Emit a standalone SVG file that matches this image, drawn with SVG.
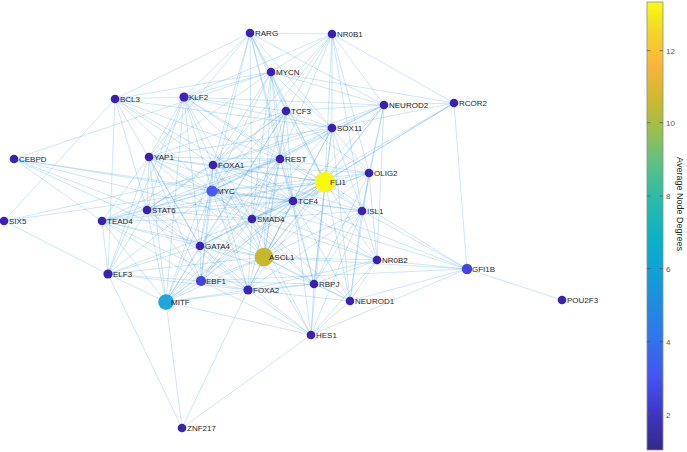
<svg xmlns="http://www.w3.org/2000/svg" width="687" height="452" viewBox="0 0 687 452">
<defs>
<style>
.e line{stroke:#3a9be0;stroke-opacity:0.42;stroke-width:0.6;fill:none}
.n circle{stroke:none}
.s{fill:#3b20b2}
text{font-family:"Liberation Sans",Arial,sans-serif;font-size:8px;fill:#262626}
.tk{font-size:8px;fill:#555}
</style>
<linearGradient id="parula" x1="0" y1="1" x2="0" y2="0">
<stop offset="0" stop-color="#352a87"/>
<stop offset="0.08" stop-color="#3d35c4"/>
<stop offset="0.16" stop-color="#4652f2"/>
<stop offset="0.26" stop-color="#2f78ea"/>
<stop offset="0.36" stop-color="#1796dc"/>
<stop offset="0.46" stop-color="#08b0cc"/>
<stop offset="0.56" stop-color="#28bca8"/>
<stop offset="0.64" stop-color="#5dc184"/>
<stop offset="0.72" stop-color="#9fbf4a"/>
<stop offset="0.78" stop-color="#cbb92f"/>
<stop offset="0.86" stop-color="#f9b53a"/>
<stop offset="0.93" stop-color="#f3d52a"/>
<stop offset="1" stop-color="#f9fb0e"/>
</linearGradient>
</defs>
<rect width="687" height="452" fill="#fff"/>
<g class="e" id="edges">
<line x1="250" y1="33" x2="332" y2="34"/><line x1="250" y1="33" x2="271" y2="72"/><line x1="250" y1="33" x2="286" y2="111"/><line x1="250" y1="33" x2="184" y2="97"/><line x1="250" y1="33" x2="115" y2="99"/><line x1="250" y1="33" x2="149" y2="157"/><line x1="250" y1="33" x2="213" y2="165"/><line x1="250" y1="33" x2="280" y2="159"/><line x1="250" y1="33" x2="325" y2="182"/><line x1="250" y1="33" x2="293" y2="201"/><line x1="250" y1="33" x2="252" y2="219"/><line x1="250" y1="33" x2="332" y2="128"/><line x1="250" y1="33" x2="212" y2="191"/><line x1="250" y1="33" x2="384" y2="105"/>
<line x1="332" y1="34" x2="271" y2="72"/><line x1="332" y1="34" x2="286" y2="111"/><line x1="332" y1="34" x2="332" y2="128"/><line x1="332" y1="34" x2="369" y2="173"/><line x1="332" y1="34" x2="362" y2="211"/><line x1="332" y1="34" x2="325" y2="182"/><line x1="332" y1="34" x2="454" y2="103"/><line x1="332" y1="34" x2="384" y2="105"/><line x1="332" y1="34" x2="213" y2="165"/><line x1="332" y1="34" x2="184" y2="97"/><line x1="332" y1="34" x2="280" y2="159"/><line x1="332" y1="34" x2="212" y2="191"/>
<line x1="271" y1="72" x2="286" y2="111"/><line x1="271" y1="72" x2="280" y2="159"/><line x1="271" y1="72" x2="325" y2="182"/><line x1="271" y1="72" x2="293" y2="201"/><line x1="271" y1="72" x2="384" y2="105"/><line x1="271" y1="72" x2="454" y2="103"/><line x1="271" y1="72" x2="184" y2="97"/><line x1="271" y1="72" x2="213" y2="165"/><line x1="271" y1="72" x2="212" y2="191"/><line x1="271" y1="72" x2="252" y2="219"/><line x1="271" y1="72" x2="149" y2="157"/><line x1="271" y1="72" x2="332" y2="128"/><line x1="271" y1="72" x2="264" y2="257"/><line x1="271" y1="72" x2="115" y2="99"/><line x1="271" y1="72" x2="14" y2="159"/>
<line x1="115" y1="99" x2="184" y2="97"/><line x1="115" y1="99" x2="4" y2="221"/><line x1="115" y1="99" x2="108" y2="274"/><line x1="115" y1="99" x2="147" y2="210"/><line x1="115" y1="99" x2="213" y2="165"/><line x1="115" y1="99" x2="280" y2="159"/><line x1="115" y1="99" x2="293" y2="201"/><line x1="115" y1="99" x2="212" y2="191"/><line x1="115" y1="99" x2="332" y2="128"/><line x1="115" y1="99" x2="200" y2="246"/>
<line x1="184" y1="97" x2="286" y2="111"/><line x1="184" y1="97" x2="149" y2="157"/><line x1="184" y1="97" x2="213" y2="165"/><line x1="184" y1="97" x2="212" y2="191"/><line x1="184" y1="97" x2="280" y2="159"/><line x1="184" y1="97" x2="325" y2="182"/><line x1="184" y1="97" x2="293" y2="201"/><line x1="184" y1="97" x2="252" y2="219"/><line x1="184" y1="97" x2="147" y2="210"/><line x1="184" y1="97" x2="108" y2="274"/><line x1="184" y1="97" x2="166" y2="302"/><line x1="184" y1="97" x2="332" y2="128"/><line x1="184" y1="97" x2="384" y2="105"/><line x1="184" y1="97" x2="200" y2="246"/>
<line x1="286" y1="111" x2="280" y2="159"/><line x1="286" y1="111" x2="325" y2="182"/><line x1="286" y1="111" x2="293" y2="201"/><line x1="286" y1="111" x2="332" y2="128"/><line x1="286" y1="111" x2="384" y2="105"/><line x1="286" y1="111" x2="213" y2="165"/><line x1="286" y1="111" x2="212" y2="191"/><line x1="286" y1="111" x2="149" y2="157"/><line x1="286" y1="111" x2="252" y2="219"/><line x1="286" y1="111" x2="264" y2="257"/><line x1="286" y1="111" x2="200" y2="246"/><line x1="286" y1="111" x2="166" y2="302"/><line x1="286" y1="111" x2="369" y2="173"/><line x1="286" y1="111" x2="147" y2="210"/>
<line x1="384" y1="105" x2="454" y2="103"/><line x1="384" y1="105" x2="332" y2="128"/><line x1="384" y1="105" x2="325" y2="182"/><line x1="384" y1="105" x2="369" y2="173"/><line x1="384" y1="105" x2="362" y2="211"/><line x1="384" y1="105" x2="280" y2="159"/><line x1="384" y1="105" x2="293" y2="201"/><line x1="384" y1="105" x2="212" y2="191"/><line x1="384" y1="105" x2="213" y2="165"/><line x1="384" y1="105" x2="264" y2="257"/><line x1="384" y1="105" x2="377" y2="260"/>
<line x1="454" y1="103" x2="325" y2="182"/><line x1="454" y1="103" x2="467" y2="269"/><line x1="454" y1="103" x2="252" y2="219"/><line x1="454" y1="103" x2="332" y2="128"/><line x1="454" y1="103" x2="293" y2="201"/>
<line x1="332" y1="128" x2="280" y2="159"/><line x1="332" y1="128" x2="325" y2="182"/><line x1="332" y1="128" x2="369" y2="173"/><line x1="332" y1="128" x2="362" y2="211"/><line x1="332" y1="128" x2="293" y2="201"/><line x1="332" y1="128" x2="212" y2="191"/><line x1="332" y1="128" x2="213" y2="165"/><line x1="332" y1="128" x2="252" y2="219"/><line x1="332" y1="128" x2="264" y2="257"/><line x1="332" y1="128" x2="149" y2="157"/><line x1="332" y1="128" x2="350" y2="301"/><line x1="332" y1="128" x2="314" y2="284"/>
<line x1="14" y1="159" x2="102" y2="221"/><line x1="14" y1="159" x2="147" y2="210"/><line x1="14" y1="159" x2="212" y2="191"/><line x1="14" y1="159" x2="252" y2="219"/><line x1="14" y1="159" x2="200" y2="246"/><line x1="14" y1="159" x2="293" y2="201"/>
<line x1="4" y1="221" x2="108" y2="274"/><line x1="4" y1="221" x2="280" y2="159"/><line x1="4" y1="221" x2="212" y2="191"/>
<line x1="149" y1="157" x2="213" y2="165"/><line x1="149" y1="157" x2="212" y2="191"/><line x1="149" y1="157" x2="147" y2="210"/><line x1="149" y1="157" x2="102" y2="221"/><line x1="149" y1="157" x2="280" y2="159"/><line x1="149" y1="157" x2="293" y2="201"/><line x1="149" y1="157" x2="252" y2="219"/><line x1="149" y1="157" x2="200" y2="246"/><line x1="149" y1="157" x2="201" y2="281"/><line x1="149" y1="157" x2="166" y2="302"/><line x1="149" y1="157" x2="108" y2="274"/><line x1="149" y1="157" x2="325" y2="182"/><line x1="149" y1="157" x2="264" y2="257"/>
<line x1="213" y1="165" x2="280" y2="159"/><line x1="213" y1="165" x2="212" y2="191"/><line x1="213" y1="165" x2="325" y2="182"/><line x1="213" y1="165" x2="293" y2="201"/><line x1="213" y1="165" x2="252" y2="219"/><line x1="213" y1="165" x2="147" y2="210"/><line x1="213" y1="165" x2="200" y2="246"/><line x1="213" y1="165" x2="264" y2="257"/><line x1="213" y1="165" x2="201" y2="281"/><line x1="213" y1="165" x2="248" y2="290"/><line x1="213" y1="165" x2="166" y2="302"/><line x1="213" y1="165" x2="369" y2="173"/><line x1="213" y1="165" x2="362" y2="211"/><line x1="213" y1="165" x2="102" y2="221"/>
<line x1="280" y1="159" x2="325" y2="182"/><line x1="280" y1="159" x2="293" y2="201"/><line x1="280" y1="159" x2="212" y2="191"/><line x1="280" y1="159" x2="252" y2="219"/><line x1="280" y1="159" x2="369" y2="173"/><line x1="280" y1="159" x2="362" y2="211"/><line x1="280" y1="159" x2="264" y2="257"/><line x1="280" y1="159" x2="200" y2="246"/><line x1="280" y1="159" x2="147" y2="210"/><line x1="280" y1="159" x2="248" y2="290"/><line x1="280" y1="159" x2="314" y2="284"/><line x1="280" y1="159" x2="201" y2="281"/><line x1="280" y1="159" x2="166" y2="302"/><line x1="280" y1="159" x2="102" y2="221"/>
<line x1="369" y1="173" x2="325" y2="182"/><line x1="369" y1="173" x2="362" y2="211"/><line x1="369" y1="173" x2="293" y2="201"/><line x1="369" y1="173" x2="350" y2="301"/><line x1="369" y1="173" x2="377" y2="260"/><line x1="369" y1="173" x2="212" y2="191"/><line x1="369" y1="173" x2="252" y2="219"/><line x1="369" y1="173" x2="264" y2="257"/><line x1="369" y1="173" x2="314" y2="284"/>
<line x1="325" y1="182" x2="293" y2="201"/><line x1="325" y1="182" x2="212" y2="191"/><line x1="325" y1="182" x2="252" y2="219"/><line x1="325" y1="182" x2="362" y2="211"/><line x1="325" y1="182" x2="264" y2="257"/><line x1="325" y1="182" x2="200" y2="246"/><line x1="325" y1="182" x2="377" y2="260"/><line x1="325" y1="182" x2="314" y2="284"/><line x1="325" y1="182" x2="350" y2="301"/><line x1="325" y1="182" x2="467" y2="269"/><line x1="325" y1="182" x2="248" y2="290"/><line x1="325" y1="182" x2="201" y2="281"/><line x1="325" y1="182" x2="166" y2="302"/><line x1="325" y1="182" x2="147" y2="210"/><line x1="325" y1="182" x2="311" y2="335"/><line x1="325" y1="182" x2="102" y2="221"/>
<line x1="212" y1="191" x2="293" y2="201"/><line x1="212" y1="191" x2="252" y2="219"/><line x1="212" y1="191" x2="147" y2="210"/><line x1="212" y1="191" x2="200" y2="246"/><line x1="212" y1="191" x2="264" y2="257"/><line x1="212" y1="191" x2="201" y2="281"/><line x1="212" y1="191" x2="248" y2="290"/><line x1="212" y1="191" x2="166" y2="302"/><line x1="212" y1="191" x2="102" y2="221"/><line x1="212" y1="191" x2="108" y2="274"/><line x1="212" y1="191" x2="362" y2="211"/><line x1="212" y1="191" x2="314" y2="284"/><line x1="212" y1="191" x2="467" y2="269"/><line x1="212" y1="191" x2="377" y2="260"/>
<line x1="293" y1="201" x2="252" y2="219"/><line x1="293" y1="201" x2="362" y2="211"/><line x1="293" y1="201" x2="264" y2="257"/><line x1="293" y1="201" x2="200" y2="246"/><line x1="293" y1="201" x2="314" y2="284"/><line x1="293" y1="201" x2="350" y2="301"/><line x1="293" y1="201" x2="377" y2="260"/><line x1="293" y1="201" x2="248" y2="290"/><line x1="293" y1="201" x2="201" y2="281"/><line x1="293" y1="201" x2="311" y2="335"/><line x1="293" y1="201" x2="147" y2="210"/><line x1="293" y1="201" x2="467" y2="269"/><line x1="293" y1="201" x2="166" y2="302"/><line x1="293" y1="201" x2="102" y2="221"/>
<line x1="147" y1="210" x2="252" y2="219"/><line x1="147" y1="210" x2="200" y2="246"/><line x1="147" y1="210" x2="102" y2="221"/><line x1="147" y1="210" x2="201" y2="281"/><line x1="147" y1="210" x2="264" y2="257"/><line x1="147" y1="210" x2="166" y2="302"/><line x1="147" y1="210" x2="108" y2="274"/><line x1="147" y1="210" x2="248" y2="290"/>
<line x1="102" y1="221" x2="108" y2="274"/><line x1="102" y1="221" x2="166" y2="302"/><line x1="102" y1="221" x2="200" y2="246"/><line x1="102" y1="221" x2="201" y2="281"/><line x1="102" y1="221" x2="252" y2="219"/><line x1="102" y1="221" x2="264" y2="257"/><line x1="102" y1="221" x2="248" y2="290"/>
<line x1="252" y1="219" x2="200" y2="246"/><line x1="252" y1="219" x2="264" y2="257"/><line x1="252" y1="219" x2="201" y2="281"/><line x1="252" y1="219" x2="248" y2="290"/><line x1="252" y1="219" x2="314" y2="284"/><line x1="252" y1="219" x2="362" y2="211"/><line x1="252" y1="219" x2="377" y2="260"/><line x1="252" y1="219" x2="166" y2="302"/><line x1="252" y1="219" x2="311" y2="335"/><line x1="252" y1="219" x2="350" y2="301"/><line x1="252" y1="219" x2="108" y2="274"/>
<line x1="362" y1="211" x2="377" y2="260"/><line x1="362" y1="211" x2="467" y2="269"/><line x1="362" y1="211" x2="311" y2="335"/><line x1="362" y1="211" x2="350" y2="301"/><line x1="362" y1="211" x2="314" y2="284"/><line x1="362" y1="211" x2="264" y2="257"/><line x1="362" y1="211" x2="248" y2="290"/>
<line x1="200" y1="246" x2="264" y2="257"/><line x1="200" y1="246" x2="201" y2="281"/><line x1="200" y1="246" x2="248" y2="290"/><line x1="200" y1="246" x2="166" y2="302"/><line x1="200" y1="246" x2="108" y2="274"/><line x1="200" y1="246" x2="314" y2="284"/><line x1="200" y1="246" x2="311" y2="335"/>
<line x1="264" y1="257" x2="377" y2="260"/><line x1="264" y1="257" x2="467" y2="269"/><line x1="264" y1="257" x2="201" y2="281"/><line x1="264" y1="257" x2="248" y2="290"/><line x1="264" y1="257" x2="314" y2="284"/><line x1="264" y1="257" x2="166" y2="302"/><line x1="264" y1="257" x2="350" y2="301"/><line x1="264" y1="257" x2="311" y2="335"/><line x1="264" y1="257" x2="108" y2="274"/>
<line x1="377" y1="260" x2="467" y2="269"/><line x1="377" y1="260" x2="311" y2="335"/><line x1="377" y1="260" x2="350" y2="301"/><line x1="377" y1="260" x2="314" y2="284"/><line x1="377" y1="260" x2="248" y2="290"/>
<line x1="467" y1="269" x2="562" y2="300"/><line x1="467" y1="269" x2="201" y2="281"/><line x1="467" y1="269" x2="311" y2="335"/><line x1="467" y1="269" x2="350" y2="301"/>
<line x1="108" y1="274" x2="201" y2="281"/><line x1="108" y1="274" x2="166" y2="302"/><line x1="108" y1="274" x2="182" y2="428"/><line x1="108" y1="274" x2="248" y2="290"/>
<line x1="201" y1="281" x2="248" y2="290"/><line x1="201" y1="281" x2="166" y2="302"/><line x1="201" y1="281" x2="314" y2="284"/><line x1="201" y1="281" x2="311" y2="335"/>
<line x1="248" y1="290" x2="314" y2="284"/><line x1="248" y1="290" x2="166" y2="302"/><line x1="248" y1="290" x2="311" y2="335"/><line x1="248" y1="290" x2="182" y2="428"/><line x1="248" y1="290" x2="350" y2="301"/>
<line x1="314" y1="284" x2="350" y2="301"/><line x1="314" y1="284" x2="311" y2="335"/><line x1="314" y1="284" x2="166" y2="302"/>
<line x1="166" y1="302" x2="182" y2="428"/><line x1="166" y1="302" x2="311" y2="335"/>
<line x1="311" y1="335" x2="182" y2="428"/><line x1="311" y1="335" x2="350" y2="301"/>
</g>
<g class="n">
<g id="RARG"><circle class="s" cx="250" cy="33" r="4.3"/><text x="255" y="36">RARG</text></g>
<g id="NR0B1"><circle class="s" cx="332" cy="34" r="4.3"/><text x="337" y="37">NR0B1</text></g>
<g id="MYCN"><circle class="s" cx="271" cy="72" r="4.3"/><text x="276" y="75">MYCN</text></g>
<g id="BCL3"><circle class="s" cx="115" cy="99" r="4.3"/><text x="120" y="102">BCL3</text></g>
<g id="KLF2"><circle cx="184" cy="97" r="4.6" fill="#3d24bd"/><text x="189" y="100">KLF2</text></g>
<g id="TCF3"><circle class="s" cx="286" cy="111" r="4.3"/><text x="291" y="114">TCF3</text></g>
<g id="NEUROD2"><circle class="s" cx="384" cy="105" r="4.3"/><text x="389" y="108">NEUROD2</text></g>
<g id="RCOR2"><circle class="s" cx="454" cy="103" r="4.3"/><text x="459" y="106">RCOR2</text></g>
<g id="SOX11"><circle class="s" cx="332" cy="128" r="4.3"/><text x="337" y="131">SOX11</text></g>
<g id="CEBPD"><circle class="s" cx="14" cy="159" r="4.3"/><text x="19" y="162">CEBPD</text></g>
<g id="YAP1"><circle class="s" cx="149" cy="157" r="4.3"/><text x="154" y="160">YAP1</text></g>
<g id="FOXA1"><circle class="s" cx="213" cy="165" r="4.3"/><text x="218" y="168">FOXA1</text></g>
<g id="REST"><circle class="s" cx="280" cy="159" r="4.3"/><text x="285" y="162">REST</text></g>
<g id="OLIG2"><circle class="s" cx="369" cy="173" r="4.3"/><text x="374" y="176">OLIG2</text></g>
<g id="FLI1"><circle cx="325" cy="182" r="10.3" fill="#f9f80f"/><text x="330" y="185">FLI1</text></g>
<g id="MYC"><circle cx="212" cy="191" r="5.6" fill="#4758f3"/><text x="217" y="194">MYC</text></g>
<g id="TCF4"><circle class="s" cx="293" cy="201" r="4.3"/><text x="298" y="204">TCF4</text></g>
<g id="STAT6"><circle class="s" cx="147" cy="210" r="4.3"/><text x="152" y="213">STAT6</text></g>
<g id="SIX5"><circle class="s" cx="4" cy="221" r="4.3"/><text x="9" y="224">SIX5</text></g>
<g id="TEAD4"><circle class="s" cx="102" cy="221" r="4.3"/><text x="107" y="224">TEAD4</text></g>
<g id="SMAD4"><circle class="s" cx="252" cy="219" r="4.3"/><text x="257" y="222">SMAD4</text></g>
<g id="ISL1"><circle class="s" cx="362" cy="211" r="4.3"/><text x="367" y="214">ISL1</text></g>
<g id="GATA4"><circle class="s" cx="200" cy="246" r="4.3"/><text x="205" y="249">GATA4</text></g>
<g id="ASCL1"><circle cx="264" cy="257" r="9.3" fill="#c6b72c"/><text x="269" y="260">ASCL1</text></g>
<g id="NR0B2"><circle class="s" cx="377" cy="260" r="4.3"/><text x="382" y="263">NR0B2</text></g>
<g id="GFI1B"><circle cx="467" cy="269" r="5.2" fill="#4642e6"/><text x="472" y="272">GFI1B</text></g>
<g id="ELF3"><circle class="s" cx="108" cy="274" r="4.6"/><text x="113" y="277">ELF3</text></g>
<g id="EBF1"><circle cx="201" cy="281" r="5.1" fill="#4240e0"/><text x="206" y="284">EBF1</text></g>
<g id="FOXA2"><circle cx="248" cy="290" r="4.6" fill="#3d24bd"/><text x="253" y="293">FOXA2</text></g>
<g id="RBPJ"><circle class="s" cx="314" cy="284" r="4.3"/><text x="319" y="287">RBPJ</text></g>
<g id="MITF"><circle cx="166" cy="302" r="7.8" fill="#1fa6df"/><text x="171" y="305">MITF</text></g>
<g id="NEUROD1"><circle class="s" cx="350" cy="301" r="4.3"/><text x="355" y="304">NEUROD1</text></g>
<g id="POU2F3"><circle class="s" cx="562" cy="300" r="4.3"/><text x="567" y="303">POU2F3</text></g>
<g id="HES1"><circle class="s" cx="311" cy="335" r="4.3"/><text x="316" y="338">HES1</text></g>
<g id="ZNF217"><circle class="s" cx="182" cy="428" r="4.3"/><text x="187" y="431">ZNF217</text></g>
</g>
<g id="colorbar">
<rect x="647" y="2" width="16" height="448" fill="url(#parula)" stroke="#8c8c8c" stroke-width="0.8"/>
<g stroke="#555" stroke-width="0.7">
<line x1="659.5" y1="50.7" x2="663" y2="50.7"/><line x1="659.5" y1="122.7" x2="663" y2="122.7"/><line x1="659.5" y1="196" x2="663" y2="196"/><line x1="659.5" y1="268.5" x2="663" y2="268.5"/><line x1="659.5" y1="341.5" x2="663" y2="341.5"/><line x1="659.5" y1="414.5" x2="663" y2="414.5"/>
<line x1="647" y1="50.7" x2="650.5" y2="50.7"/><line x1="647" y1="122.7" x2="650.5" y2="122.7"/><line x1="647" y1="196" x2="650.5" y2="196"/><line x1="647" y1="268.5" x2="650.5" y2="268.5"/><line x1="647" y1="341.5" x2="650.5" y2="341.5"/><line x1="647" y1="414.5" x2="650.5" y2="414.5"/>
</g>
<text class="tk" x="666" y="53.5">12</text>
<text class="tk" x="666" y="125.5">10</text>
<text class="tk" x="666" y="199">8</text>
<text class="tk" x="666" y="271.5">6</text>
<text class="tk" x="666" y="344.5">4</text>
<text class="tk" x="666" y="417.5">2</text>
<text x="677" y="204" transform="rotate(90 677 204)" text-anchor="middle" style="font-size:9px;fill:#222">Average Node Degrees</text>
</g>
</svg>
